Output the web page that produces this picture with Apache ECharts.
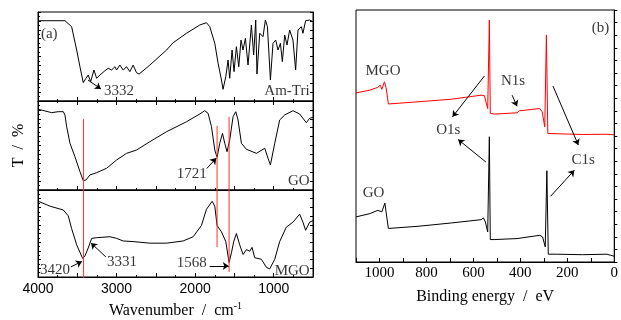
<!DOCTYPE html>
<html>
<head>
<meta charset="utf-8">
<script src="https://cdn.jsdelivr.net/npm/echarts@6/dist/echarts.min.js"></script>
<style>
  html, body { margin: 0; padding: 0; background: #fff; }
  #chart { width: 621px; height: 320px; }
</style>
</head>
<body>
<div id="chart"></div>
<script>
// ---- panel (a): FTIR, wavenumber (cm-1) vs transmittance (relative, 0-100 per strip)
const amTriWn = [4000,3657,3572,3508,3466,3424,3390,3361,3330,3288,3254,3212,3148,3106,3063,3021,3000,2958,2916,2873,2831,2789,2746,2713,2576,2364,2280,2110,1941,1856,1814,1750,1708,1665,1645,1610,1581,1560,1530,1505,1475,1445,1416,1391,1360,1327,1284,1255,1229,1213,1178,1136,1106,1080,1042,1009,975,945,915,890,860,831,797,755,721,691,648,628,594,543,501];
const amTriT = [90.2,90.2,83.5,57.3,38.5,20.6,25.5,29.2,21.7,34.8,25.5,29.2,34,36.7,34.8,38.5,34.8,40.4,34.8,38.5,33,40.4,31.8,30.3,40.4,57.3,65.5,76.1,85.4,88,83.5,64.8,42.4,23.6,13.1,27.3,46.1,25.5,57.3,33,61,38.5,68.5,57.3,70.4,40.4,85.4,51.7,91,30.3,76.1,72.3,91,83.5,23.6,64.8,68.5,57.3,64.8,44.2,74.2,62.9,79.8,68.5,34.8,79.8,83.5,76.1,90.2,91,89.1];

const goWn = [3996,3911,3826,3742,3678,3657,3635,3593,3530,3466,3424,3390,3339,3254,3127,3000,2873,2746,2576,2364,2110,1941,1878,1835,1792,1750,1721,1687,1652,1623,1594,1560,1517,1483,1454,1411,1347,1220,1114,1072,1042,987,924,860,755,670,585,543,501];
const goT = [90.7,88.8,86.9,88,88,84.3,71.1,52.5,37.4,20.6,10.5,11.2,16.9,19.5,24.4,33.7,41.2,44.9,54.3,65.5,76.7,85.4,89.1,86.1,71.1,44.9,36.7,52.5,63.7,52.5,43,56.2,82.4,88,78.7,52.5,45.7,41.2,46.9,35.6,28.1,52.5,78.7,84.3,89.1,85.4,75.6,80.5,81.7];

const mgoWn = [3996,3847,3678,3615,3572,3508,3432,3403,3361,3317,3254,3085,3000,2916,2789,2576,2364,2153,2025,1920,1856,1784,1750,1721,1665,1610,1568,1538,1509,1475,1433,1390,1347,1305,1276,1242,1157,1093,1051,987,924,839,755,670,628,594,543,501];
const mgoT = [87,81.4,77,70.3,55.6,37,21.4,24.1,33.3,44.4,45.2,46.3,44.4,41.4,40.7,38.9,38.9,41.4,46.3,59.2,77.8,87,81.4,59.2,51.9,40.7,16.7,27.8,40.7,50,37,25.9,31.5,29.6,34.1,22.2,20.4,11.1,9.3,20.4,40.7,57.4,63,72.2,63,53.7,63,64.8];

// red guide lines across GO / MGO strips (overlay scale 0-100 over the whole panel)
const redLineWn = [3420, 1721, 1568];
const redLineTop = [60.1, 57.5, 60.9];
const redLineBottom = [0.7, 12.3, 3.0];

// annotations panel (a), overlay coordinates
const annoAText = ['(a)', '3332', 'Am-Tri', 'GO', '1721', '3420', '3331', '1568', 'MGO'];
const annoAWn = [3975, 3174, 530, 530, 1839, 3581, 3136, 1839, 530];
const annoAV = [91.7, 70.5, 70.5, 36.9, 39.6, 3.7, 6.7, 6.3, 3.4];
const annoAPos = ['right', 'right', 'left', 'left', 'left', 'left', 'right', 'left', 'left'];
const leaderA = [
  [[3364, 74.6], [3199, 71.3]],
  [[1852, 41.6], [1731, 45.5]],
  [[3581, 4.9], [3441, 6.9]],
  [[3136, 8.6], [3326, 13.8]],
  [[1814, 5.2], [1572, 5.2]]
];

// ---- panel (b): XPS survey, binding energy (eV) vs intensity (a.u.)
const xpsMgoEv = [1100,1041,1007,997,990,979,972,962,832,693,567,553,547,539,532,528,511,414,404,397,317,307,296,289,283,275,135,31,24,17,0];
const xpsMgoI = [67.1,68.2,69.3,70.2,68.5,71.5,69.3,62.7,63.6,64.6,66.2,66,63.6,60.9,96,59,58.7,59.2,60,59.4,60.9,59.6,53.6,90.1,51,50.6,50.6,50.7,51.3,50.6,50.5];
const xpsGoEv = [1100,1041,1007,1000,990,977,972,962,832,693,567,557,549,539,532,528,511,414,317,305,294,287,281,247,135,31,24,17,0];
const xpsGoI = [17.9,19.2,20.5,21.2,19.9,23.4,19.9,13.3,14.2,15.5,16.8,17.5,15.9,11.9,49.7,8.9,8.9,9.3,10.6,9.9,6,36.2,3.1,3.1,2.9,3.1,3.6,2.7,2.3];

const annoBText = ['(b)', 'MGO', 'N1s', 'O1s', 'C1s', 'GO'];
const annoBEv = [59, 985, 431, 707, 132, 1025];
const annoBV = [93, 75.8, 71.8, 52.3, 40.4, 27.2];
const arrowB = [
  [[435, 66.2], [414, 61.8]],
  [[553, 73.8], [689, 57.6]],
  [[547, 39.7], [665, 48.6]],
  [[261, 69.8], [153, 46.4]],
  [[271, 26.1], [170, 36.4]]
];

const SERIF = '"Liberation Serif", "Times New Roman", serif';
const SANS = '"Liberation Sans", Arial, sans-serif';
const zip = (xs, ys) => xs.map((x, i) => [x, ys[i]]);

const chart = echarts.init(document.getElementById('chart'));

const box = { show: true, borderColor: '#000', borderWidth: 1, backgroundColor: 'transparent' };
const grids = [
  { left: 38, right: 308, top: 12, height: 89, ...box },
  { left: 38, right: 308, top: 101, height: 89, ...box },
  { left: 38, right: 308, top: 190, height: 90, ...box },
  { left: 38, right: 308, top: 12, height: 268, show: false }, // overlay for guides & text
  { left: 356, right: 2, top: 10, height: 252, ...box }
];

const ink = { lineStyle: { color: '#000', width: 1 } };

function wnAxis(gi, opts) {
  return Object.assign({
    gridIndex: gi, type: 'value', min: 500, max: 4000, inverse: true, interval: 500,
    axisLine: { show: true, ...ink },
    axisTick: { inside: true, length: 4, ...ink },
    minorTick: { show: true, splitNumber: 2, length: 2, ...ink },
    splitLine: { show: false },
    axisLabel: { show: false }
  }, opts || {});
}
function tAxis(gi, opts) {
  return Object.assign({
    gridIndex: gi, type: 'value', min: 0, max: 100, interval: 10,
    axisLine: { show: true, ...ink },
    axisTick: { inside: true, length: 3, ...ink },
    minorTick: { show: true, splitNumber: 2, length: 2, ...ink },
    splitLine: { show: false },
    axisLabel: { show: false }
  }, opts || {});
}

const xAxes = [
  wnAxis(0),
  wnAxis(1),
  wnAxis(2, {
    axisLabel: {
      show: true, fontFamily: SANS, fontSize: 14, color: '#000', margin: 5,
      showMinLabel: true, showMaxLabel: true,
      formatter: v => (v % 1000 === 0 ? String(v) : '')
    },
    name: 'Wavenumber  /  cm{sup|-1}',
    nameLocation: 'middle', nameGap: 24,
    nameTextStyle: {
      fontFamily: SERIF, fontSize: 16, color: '#000',
      rich: { sup: { fontFamily: SERIF, fontSize: 10, color: '#000', padding: [0, 0, 10, 0] } }
    }
  }),
  wnAxis(0, { position: 'top' }),
  { gridIndex: 3, type: 'value', min: 500, max: 4000, inverse: true, show: false },
  {
    gridIndex: 4, type: 'value', min: 0, max: 1100, inverse: true, interval: 100,
    axisLine: { show: true, ...ink },
    axisTick: { inside: true, length: 4, ...ink },
    splitLine: { show: false },
    axisLabel: {
      fontFamily: SERIF, fontSize: 15, color: '#000', margin: 4,
      showMinLabel: true, showMaxLabel: true,
      formatter: v => (v % 200 === 0 ? String(v) : '')
    },
    name: 'Binding energy  /  eV',
    nameLocation: 'middle', nameGap: 27,
    nameTextStyle: { fontFamily: SERIF, fontSize: 16, color: '#000' }
  }
];

const yAxes = [
  tAxis(0), tAxis(1, {
    name: 'T  /  %', nameLocation: 'middle', nameRotate: 90, nameGap: 11,
    nameTextStyle: { fontFamily: SERIF, fontSize: 16, color: '#000' }
  }), tAxis(2),
  { gridIndex: 3, type: 'value', min: 0, max: 100, show: false },
  {
    gridIndex: 4, type: 'value', min: 0, max: 100, interval: 5,
    axisLine: { show: true, ...ink },
    axisTick: { inside: true, length: 3, ...ink },
    splitLine: { show: false },
    axisLabel: { show: false }
  },
  tAxis(0, { position: 'right', minorTick: { show: false } }),
  tAxis(1, { position: 'right', minorTick: { show: false } }),
  tAxis(2, { position: 'right', minorTick: { show: false } })
];

function curve(xi, yi, data, color, z) {
  return {
    type: 'line', xAxisIndex: xi, yAxisIndex: yi, data: data,
    showSymbol: false, symbol: 'none', silent: true, z: z || 2,
    itemStyle: { color: color || '#000' },
    lineStyle: { color: color || '#000', width: 1 }
  };
}
function textMarks(xi, yi, xs, ys, texts, positions) {
  return {
    type: 'scatter', xAxisIndex: xi, yAxisIndex: yi, symbolSize: 0, silent: true, z: 5,
    itemStyle: { color: 'transparent' },
    data: xs.map((x, i) => ({
      value: [x, ys[i]],
      label: {
        show: true, position: positions ? positions[i] : 'inside', distance: 1,
        formatter: texts[i], fontFamily: SERIF, fontSize: 15, color: '#000'
      }
    }))
  };
}
function segments(xi, yi, segs) {
  return {
    type: 'lines', coordinateSystem: 'cartesian2d', xAxisIndex: xi, yAxisIndex: yi,
    silent: true, z: 4, symbol: ['none', 'arrow'], symbolSize: 6,
    itemStyle: { color: '#000' },
    lineStyle: { color: '#000', width: 1, opacity: 1 },
    data: segs.map(s => ({ coords: s }))
  };
}

const redGuides = redLineWn.map((w, i) =>
  curve(4, 3, [[w, redLineTop[i]], [w, redLineBottom[i]]], '#ff3030', 3));

const series = [
  curve(0, 0, zip(amTriWn, amTriT)),
  curve(1, 1, zip(goWn, goT)),
  curve(2, 2, zip(mgoWn, mgoT)),
  ...redGuides,
  segments(4, 3, leaderA),
  textMarks(4, 3, annoAWn, annoAV, annoAText, annoAPos),
  curve(5, 4, zip(xpsMgoEv, xpsMgoI), '#ff0000'),
  curve(5, 4, zip(xpsGoEv, xpsGoI)),
  segments(5, 4, arrowB),
  textMarks(5, 4, annoBEv, annoBV, annoBText)
];

chart.setOption({
  animation: false,
  backgroundColor: '#fff',
  grid: grids,
  xAxis: xAxes,
  yAxis: yAxes,
  series: series
});
</script>
</body>
</html>
